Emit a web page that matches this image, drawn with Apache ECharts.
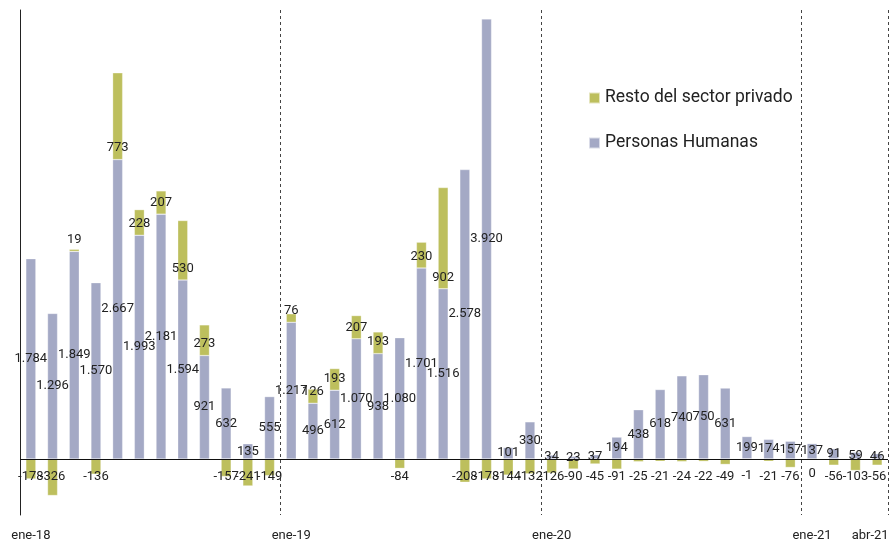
<!DOCTYPE html>
<html>
<head>
<meta charset="utf-8">
<script src="https://cdn.jsdelivr.net/npm/echarts@6/dist/echarts.min.js"></script>
<style>html,body{margin:0;padding:0;background:#fff}#c{width:892px;height:542px}</style>
</head>
<body>
<div id="c"></div>
<script>
const months = [
  'ene-18','feb-18','mar-18','abr-18','may-18','jun-18','jul-18','ago-18','sep-18','oct-18','nov-18','dic-18',
  'ene-19','feb-19','mar-19','abr-19','may-19','jun-19','jul-19','ago-19','sep-19','oct-19','nov-19','dic-19',
  'ene-20','feb-20','mar-20','abr-20','may-20','jun-20','jul-20','ago-20','sep-20','oct-20','nov-20','dic-20',
  'ene-21','feb-21','mar-21','abr-21'
];
const tickLabels = ['ene-18','ene-19','ene-20','ene-21','abr-21'];
const personasHumanas = [
  1784,1296,1849,1570,2667,1993,2181,1594,921,632,135,555,
  1217,496,612,1070,938,1080,1701,1516,2578,3920,101,330,
  34,23,37,194,438,618,740,750,631,199,174,157,
  137,91,59,46
];
const restoPrivado = [
  -178,-326,19,-136,773,228,207,530,273,-157,-241,-149,
  76,126,193,207,193,-84,230,902,-208,-178,-144,-132,
  -126,-90,-45,-91,-25,-21,-24,-22,-49,-1,-21,-76,
  0,-56,-103,-56
];

function fmt(v){
  const s = Math.abs(v).toString().replace(/\B(?=(\d{3})+(?!\d))/g, '.');
  return (v < 0 ? '-' : '') + s;
}
function restoLabel(v){
  if (v > 0) return {position:'insideBottom', distance:5};
  if (v < 0) return {position:'insideTop', distance:11};
  return {position:'bottom', distance:23};
}

const chart = echarts.init(document.getElementById('c'), null, {renderer:'canvas'});
const labelFont = {fontFamily:'Roboto', fontSize:13, color:'#222'};
const lastTick = tickLabels[tickLabels.length - 1];
chart.setOption({
  animation:false,
  backgroundColor:'#fff',
  grid:{left:20, right:4, top:10, bottom:27, containLabel:false, outerBoundsMode:'none'},
  legend:{
    orient:'vertical', left:588, top:89, padding:0, itemWidth:11, itemHeight:11, itemGap:27,
    icon:'rect',
    data:['Resto del sector privado','Personas Humanas'],
    textStyle:{fontFamily:'Roboto', fontSize:17.5, color:'#222'}
  },
  xAxis:{
    type:'category', data:months, boundaryGap:true,
    axisLine:{show:false}, axisTick:{show:false},
    axisLabel:{
      interval:(i, v) => tickLabels.indexOf(v) >= 0,
      formatter:(v) => v === lastTick ? '{last|' + v + '}' : v,
      rich:{last:{padding:[0,14,0,0], fontFamily:'Roboto', fontSize:13, color:'#222'}},
      margin:14, fontFamily:'Roboto', fontSize:13, color:'#222'
    },
    splitLine:{
      show:true,
      interval:(i) => i > 0 && i % 12 === 0,
      lineStyle:{type:[3,3], color:'#444', width:1}
    }
  },
  yAxis:{
    type:'value', min:-500, max:4000,
    axisLine:{show:true, onZero:false, lineStyle:{color:'#222', width:1}},
    axisTick:{show:false}, axisLabel:{show:false}, splitLine:{show:false}
  },
  series:[
    {
      name:'Personas Humanas', type:'bar', stack:'t', barWidth:10,
      data:personasHumanas,
      itemStyle:{color:'#a4a9c5', borderColor:'rgba(255,255,255,0.6)', borderWidth:0.5},
      label:Object.assign({show:true, position:'inside', formatter:p => fmt(p.value)}, labelFont),
      markLine:{
        silent:true, symbol:'none', label:{show:false},
        lineStyle:{color:'#111', type:'solid', width:1.2},
        data:[{yAxis:0}]
      },
      z:2
    },
    {
      name:'Resto del sector privado', type:'bar', stack:'t', barWidth:10,
      data:restoPrivado.map(v => ({value:v, label:restoLabel(v)})),
      itemStyle:{color:'#bdbf5d', borderColor:'rgba(255,255,255,0.6)', borderWidth:0.5},
      label:Object.assign({show:true, formatter:p => fmt(p.value)}, labelFont),
      z:2
    }
  ]
});
</script>
</body>
</html>
